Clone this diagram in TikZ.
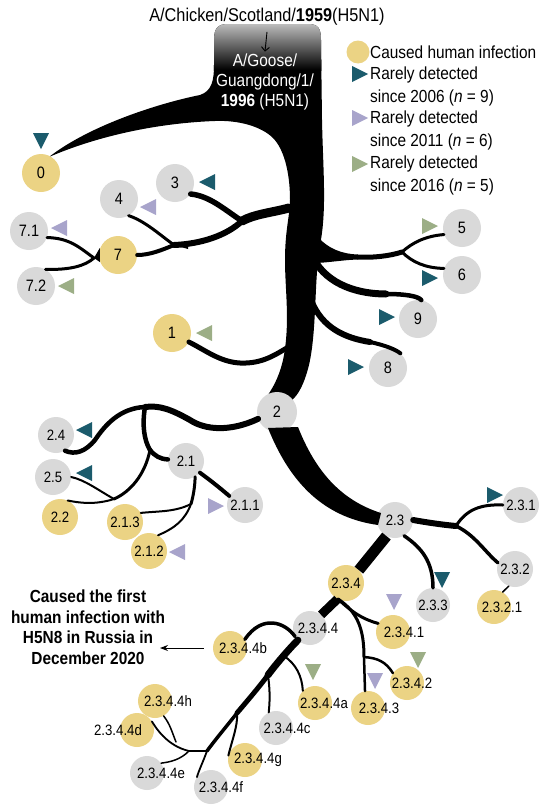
\documentclass[tikz,border=0pt]{standalone}
\usepackage{fontspec}
\setmainfont{Liberation Sans}[FakeStretch=0.88]
\usetikzlibrary{arrows.meta}
\definecolor{ycol}{HTML}{EBD384}
\definecolor{gcol}{HTML}{D9D9D9}
\definecolor{tcol}{HTML}{1B5B6C}
\definecolor{pcol}{HTML}{A8A4CB}
\definecolor{vcol}{HTML}{9CAE86}
\newcommand\tfnt{\fontsize{16.5}{20}\selectfont}
\newcommand\lfnt{\fontsize{15}{18}\selectfont}
\newcommand\hfnt{\fontsize{17.5}{23}\selectfont}
\newcommand\trunkpath{(214,40) .. controls (214,28) and (218,24) .. (228,24) -- (308,24) .. controls (318,24) and (321,28) .. (321,40)
 -- (322,120) .. controls (323,170) and (327,210) .. (320,245)
 .. controls (314,280) and (317,330) .. (309,365)
 .. controls (304,385) and (298,395) .. (292,400)
 -- (264,400)
 .. controls (274,388) and (281,372) .. (284,355)
 .. controls (290,320) and (285,290) .. (285,260)
 .. controls (285,230) and (290,215) .. (290,200)
 .. controls (290,170) and (283,148) .. (273,138)
 .. controls (262,127) and (240,120) .. (215,121)
 .. controls (160,123) and (100,135) .. (49,157)
 .. controls (90,125) and (160,103) .. (200,95)
 .. controls (212,91) and (214,80) .. (214,65) -- cycle}
\tikzset{
 br/.style={draw=black, line cap=round},
 topn/.style={circle, inner sep=0pt, minimum size=38pt, font=\tfnt},
 midn/.style={circle, inner sep=0pt, minimum size=36pt, font=\lfnt},
 lown/.style={circle, inner sep=0pt, minimum size=34pt},
 yel/.style={fill=ycol},
 gry/.style={fill=gcol},
 lab/.style={font=\lfnt, inner sep=0pt},
 tri/.pic={\fill (-7,-8) -- (9,0) -- (-7,8) -- cycle;}
}
\begin{document}
\begin{tikzpicture}[x=1pt,y=-1pt]
\useasboundingbox (0,0) rectangle (550,811);
% ---------- trunk ----------
\fill \trunkpath;
\begin{scope}
\clip \trunkpath;
\shade[top color=gray!40, bottom color=black] (200,20) rectangle (340,70);
\end{scope}
% ---------- nodes ----------
\node[topn,yel] (n0) at (41,173) {0};
\node[topn,gry] (n3) at (175,183) {3};
\node[topn,gry] (n4) at (119,199) {4};
\node[topn,gry] (n71) at (29,231) {7.1};
\node[topn,yel] (n7) at (118,255) {7};
\node[topn,gry] (n72) at (36,286) {7.2};
\node[topn,gry] (n5) at (462,228) {5};
\node[topn,gry] (n6) at (462,275) {6};
\node[topn,gry] (n9) at (418,319) {9};
\node[topn,yel] (n1) at (172,333) {1};
\node[topn,gry] (n8) at (388,368) {8};
\node[topn,gry,minimum size=40pt] (n2) at (277,412) {2};
\node[midn,gry] (n24) at (56,435) {2.4};
\node[midn,gry] (n21) at (186,461) {2.1};
\node[midn,gry] (n25) at (53,477) {2.5};
\node[midn,gry] (n211) at (245,505) {2.1.1};
\node[midn,yel] (n22) at (60,517) {2.2};
\node[midn,yel] (n213) at (125,522) {2.1.3};
\node[midn,yel] (n212) at (149,551) {2.1.2};
\node[midn,gry] (n23) at (395,520) {2.3};
\node[midn,gry] (n231) at (521,505) {2.3.1};
\node[midn,gry] (n232) at (515,569) {2.3.2};
\node[midn,yel] (n234) at (346,583) {2.3.4};
\node[lown,yel] (n2321) at (494,607) {};
\node[lown,gry] (n233) at (433,605) {};
\node[lown,gry] (n2344) at (310,628) {};
\node[lown,yel] (n2341) at (393,632) {};
\node[lown,yel] (n2344b) at (230,648) {};
\node[lown,yel] (n2342) at (407,683) {};
\node[lown,yel] (n2343) at (368,708) {};
\node[lown,yel] (n2344a) at (315,703) {};
\node[lown,gry] (n2344c) at (276,728) {};
\node[lown,yel] (n2344h) at (155,701) {};
\node[lown,yel] (n2344d) at (137,730) {};
\node[lown,yel] (n2344g) at (245,760) {};
\node[lown,gry] (n2344e) at (147,773) {};
\node[lown,gry] (n2344f) at (211,787) {};
% ---------- upper branches ----------
\coordinate (k56) at (358,257);
\coordinate (j56) at (402,252);
\fill (316,235) .. controls (328,249) and (342,254) .. (358,254.5) -- (358,259.5) .. controls (342,260) and (326,263) .. (314,263) -- cycle;
\draw[br,line width=5] (k56) .. controls (372,258) and (390,256) .. (j56);
\draw[br,line width=3] (j56) .. controls (412,243) and (425,236) .. (n5.200);
\draw[br,line width=3] (j56) .. controls (412,262) and (425,268) .. (n6.160);
\coordinate (t9) at (313,258);
\coordinate (j9) at (386,294);
\draw[br,line width=7] (t9) .. controls (328,286) and (360,294) .. (j9);
\draw[br,line width=4.5] (j9) .. controls (405,294) and (418,296) .. (n9.80);
\coordinate (t8) at (311,300);
\coordinate (j8) at (370,342);
\draw[br,line width=6] (t8) .. controls (322,328) and (345,338) .. (j8);
\draw[br,line width=4] (j8) .. controls (388,346) and (396,350) .. (n8.50);
\coordinate (t1) at (290,346);
\draw[br,line width=5] (t1) .. controls (275,355) and (262,364) .. (240,363) .. controls (220,362) and (205,350) .. (n1.-28);
\coordinate (t347) at (289,208);
\coordinate (j347) at (242,221);
\coordinate (j47) at (174,245);
\draw[br,line width=9] (t347) .. controls (270,213) and (255,214) .. (j347);
\draw[br,line width=5.5] (j347) .. controls (225,210) and (210,196) .. (n3.-35);
\draw[br,line width=6] (j347) .. controls (226,236) and (200,244) .. (j47);
\draw[br,line width=3] (j47) .. controls (160,235) and (145,221) .. (n4.-60);
\draw[br,line width=4] (j47) .. controls (162,250) and (150,255) .. (n7.east);
\fill (j47) ++(14,-3) -- ++(0,7) -- (j47) -- cycle;
\coordinate (j7) at (94,258);
\draw[br,line width=3] (j7) .. controls (80,248) and (70,238) .. (n71.-20);
\draw[br,line width=3] (j7) .. controls (85,266) and (70,270) .. (n72.60);
\fill (n7.west) ++(1,-7) -- ++(0,14) -- (j7) -- cycle;
% ---------- 2 -> 2.3 band ----------
\fill (268,428) .. controls (288,478) and (320,517) .. (378,525) -- (381,513) .. controls (340,500) and (315,470) .. (298,427) -- cycle;
% ---------- clade 2 left ----------
\coordinate (ja) at (145,407);
\coordinate (jb) at (150,450);
\coordinate (j2225) at (114,499);
\draw[br,line width=6] (n2.200) .. controls (230,432) and (205,430) .. (190,420) .. controls (172,410) and (160,405) .. (ja);
\draw[br,line width=4.5] (ja) .. controls (120,408) and (105,425) .. (95,440) .. controls (85,452) and (75,455) .. (n24.-60);
\draw[br,line width=4.5] (ja) .. controls (142,425) and (144,440) .. (jb);
\draw[br,line width=4.5] (jb) .. controls (155,456) and (160,459) .. (n21.175);
\draw[br,line width=3] (jb) .. controls (145,475) and (130,492) .. (j2225);
\draw[br,line width=2] (j2225) .. controls (98,490) and (85,480) .. (n25.east);
\draw[br,line width=2] (j2225) .. controls (95,505) and (80,503) .. (n22.65);
\draw[br,line width=4] (n21.-40) .. controls (210,480) and (220,488) .. (n211.150);
\coordinate (j212) at (191,504);
\draw[br,line width=3] (n21.-60) .. controls (195,487) and (193,497) .. (j212);
\draw[br,line width=2] (j212) .. controls (175,512) and (160,511) .. (n213.30);
\draw[br,line width=2] (j212) .. controls (185,520) and (175,528) .. (n212.60);
% ---------- clade 2.3 ----------
\coordinate (j231) at (456,526);
\draw[br,line width=6] (n23.east) .. controls (430,523) and (445,525) .. (j231);
\draw[br,line width=3] (j231) .. controls (466,510) and (480,504) .. (n231.west);
\draw[br,line width=3.5] (j231) .. controls (475,535) and (485,552) .. (n232.160);
\draw[br,line width=1.5] (n232.-110) -- (n2321.60);
\draw[br,line width=3.5] (n23.-60) .. controls (422,548) and (433,562) .. (n233.north);
\draw[br,line width=11,line cap=butt] (n23.-118) -- (n234.45);
\coordinate (j2341) at (338,599);
\draw[br,line width=9,line cap=butt] (n234.-118) -- (n2344.50);
\draw[br,line width=3] (j2341) .. controls (352,612) and (362,619) .. (n2341.150);
\coordinate (j2342) at (364,657);
\draw[br,line width=3] (j2341) .. controls (358,612) and (364,630) .. (j2342);
\draw[br,line width=2.5] (j2342) -- (n2343.100);
\draw[br,line width=2.5] (j2342) .. controls (378,658) and (386,662) .. (n2342.145);
% ---------- clade 2.3.4.4 ----------
\coordinate (jc) at (268,675);
\coordinate (jg) at (237,713);
\coordinate (jend) at (207,751);
\coordinate (ja4) at (284,656);
\draw[br,line width=7] (n2344.-135) .. controls (290,648) and (276,664) .. (jc);
\draw[br,line width=5] (jc) .. controls (260,686) and (248,700) .. (jg);
\draw[br,line width=3.5] (jg) .. controls (226,727) and (215,740) .. (jend);
\draw[br,line width=3.5] (n2344.-150) .. controls (285,622) and (262,614) .. (n2344b.30);
\draw[br,line width=2] (ja4) .. controls (296,664) and (302,676) .. (n2344a.135);
\draw[br,line width=2] (jc) .. controls (270,690) and (270,700) .. (n2344c.115);
\draw[br,line width=2] (jg) .. controls (238,726) and (232,740) .. (n2344g.165);
\draw[br,line width=1.8] (jend) .. controls (203,762) and (199,770) .. (n2344f.145);
\coordinate (jl) at (189,751);
\draw[br,line width=2.5] (jend) -- (jl);
\draw[br,line width=1.8] (jl) .. controls (172,747) and (160,735) .. (n2344d.30);
\draw[br,line width=1.5] (jl) .. controls (180,760) and (170,762) .. (n2344e.35);
\coordinate (jh) at (176,742);
\draw[br,line width=1.5] (jh) .. controls (172,732) and (170,724) .. (n2344h.-60);
% ---------- labels of small circles ----------
\node[lab] (l2321) at (502,607) {2.3.2.1};
\node[lab] (l233) at (433,605) {2.3.3};
\node[lab] (l2344) at (318,628) {2.3.4.4};
\node[lab] (l2341) at (404,632) {2.3.4.1};
\node[lab] (l2344b) at (243,648) {2.3.4.4b};
\node[lab] (l2342) at (412,683) {2.3.4.2};
\node[lab] (l2343) at (379,708) {2.3.4.3};
\node[lab] (l2344a) at (324,703) {2.3.4.4a};
\node[lab] (l2344c) at (287,728) {2.3.4.4c};
\node[lab] (l2344h) at (168,701) {2.3.4.4h};
\node[lab] (l2344d) at (118,730) {2.3.4.4d};
\node[lab] (l2344g) at (258,760) {2.3.4.4g};
\node[lab] (l2344e) at (161,773) {2.3.4.4e};
\node[lab] (l2344f) at (221,787) {2.3.4.4f};
% ---------- markers ----------
\pic[fill=tcol,rotate=-90] at (41,140) {tri};
\pic[fill=tcol,rotate=180] at (208,182) {tri};
\pic[fill=pcol,rotate=180] at (149,207) {tri};
\pic[fill=pcol,rotate=180] at (60,228) {tri};
\pic[fill=vcol,rotate=180] at (67,286) {tri};
\pic[fill=vcol] at (429,226) {tri};
\pic[fill=tcol] at (429,278) {tri};
\pic[fill=tcol] at (386,317) {tri};
\pic[fill=vcol,rotate=180] at (205,333) {tri};
\pic[fill=tcol] at (355,367) {tri};
\pic[fill=tcol,rotate=180] at (85,430) {tri};
\pic[fill=tcol,rotate=180] at (85,473) {tri};
\pic[fill=pcol] at (215,506) {tri};
\pic[fill=pcol,rotate=180] at (178,552) {tri};
\pic[fill=tcol] at (494,495) {tri};
\pic[fill=tcol,rotate=-90] at (442,579) {tri};
\pic[fill=pcol,rotate=-90] at (394,601) {tri};
\pic[fill=vcol,rotate=-90] at (418,659) {tri};
\pic[fill=pcol,rotate=-90] at (375,680) {tri};
\pic[fill=vcol,rotate=-90] at (313,671) {tri};
% ---------- top texts ----------
\node[font=\fontsize{18.5}{23}\selectfont, inner sep=0pt] (title) at (267,17) {A/Chicken/Scotland/\textbf{1959}(H5N1)};
\node[font=\hfnt, text=white, align=center, inner sep=0pt] (goose) at (265,82) {A/Goose/\\[-3pt]Guangdong/1/\\[-3pt]\textbf{1996} (H5N1)};
\draw[-{Straight Barb[length=4pt,width=8pt]}, line width=0.9pt] ([yshift=-6pt]title.south) -- ([yshift=2pt]goose.north);
% ---------- legend ----------
\node[circle, fill=ycol, inner sep=0pt, minimum size=23pt] (lc) at (358,52) {};
\node[font=\hfnt, anchor=west, inner sep=0pt] (lct) at (370,52) {Caused human infection};
\pic[fill=tcol] at (359,74) {tri};
\node[font=\hfnt, anchor=west, align=left, inner sep=0pt] (ltt) at (370,86) {Rarely detected\\since 2006 (\textit{n} = 9)};
\pic[fill=pcol] at (359,118) {tri};
\node[font=\hfnt, anchor=west, align=left, inner sep=0pt] (lpt) at (370,130) {Rarely detected\\since 2011 (\textit{n} = 6)};
\pic[fill=vcol] at (359,164) {tri};
\node[font=\hfnt, anchor=west, align=left, inner sep=0pt] (lvt) at (370,175) {Rarely detected\\since 2016 (\textit{n} = 5)};
% ---------- note ----------
\node[font=\fontsize{17.5}{20.5}\selectfont\bfseries, align=center, inner sep=0pt] (note) at (88,627) {Caused the first\\human infection with\\H5N8 in Russia in\\December 2020};
\coordinate (noteend) at (160,648);
\draw[-{Stealth[length=8pt,width=6pt]}, line width=1pt] ([xshift=-9pt]n2344b.west) -- (noteend);
\end{tikzpicture}
\end{document}
